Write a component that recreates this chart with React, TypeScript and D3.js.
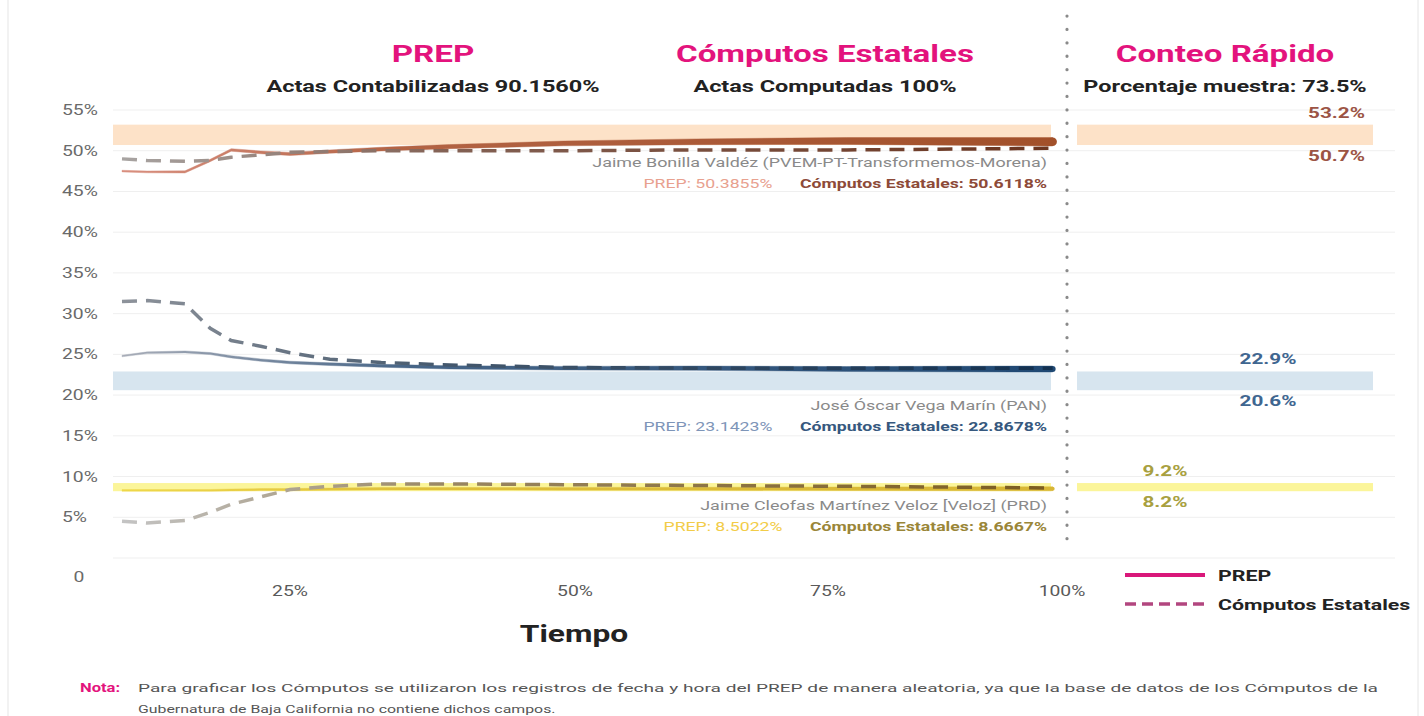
import React from "react";
import * as d3 from "d3";

// time (% of the count) at which each series was sampled
const times = [5, 8, 12.5, 15.5, 18, 21.5, 25, 28.5, 33, 39, 49, 62, 77, 99];

// Jaime Bonilla (PVEM-PT-Transformemos-Morena)
const morenaPrep = [47.5, 47.4, 47.4, 48.8, 50.1, 49.8, 49.6, 49.9, 50.2, 50.5, 50.9, 51.1, 51.2, 51.1];
const morenaComp = [49.0, 48.8, 48.7, 48.8, 49.2, 49.5, 49.8, 49.9, 50.0, 50.0, 50.0, 50.1, 50.1, 50.3];
// José Óscar Vega (PAN)
const panPrep = [24.8, 25.2, 25.3, 25.1, 24.7, 24.3, 24.0, 23.8, 23.6, 23.4, 23.3, 23.3, 23.2, 23.2];
const panComp = [31.5, 31.6, 31.2, 28.2, 26.7, 26.0, 25.2, 24.4, 24.0, 23.7, 23.4, 23.3, 23.3, 23.3];
// Jaime Cleofas Martínez (PRD)
const prdPrep = [8.3, 8.3, 8.3, 8.3, 8.35, 8.4, 8.4, 8.45, 8.5, 8.5, 8.5, 8.5, 8.5, 8.5];
const prdComp = [4.5, 4.3, 4.6, 5.6, 6.6, 7.5, 8.4, 8.8, 9.1, 9.1, 9.0, 8.9, 8.8, 8.6];

// conteo rápido intervals
const conteoLow = [50.7, 20.6, 8.2];
const conteoHigh = [53.2, 22.9, 9.2];

const candidates = [
  "Jaime Bonilla Valdéz (PVEM-PT-Transformemos-Morena)",
  "José Óscar Vega Marín (PAN)",
  "Jaime Cleofas Martínez Veloz [Veloz] (PRD)",
];
const prepFinal = ["50.3855%", "23.1423%", "8.5022%"];
const compFinal = ["50.6118%", "22.8678%", "8.6667%"];

const yTicks = [0, 5, 10, 15, 20, 25, 30, 35, 40, 45, 50, 55];
const xTicks = [25, 50, 75, 100];

// styles
const SX = 1.38;
const FONT = "Roboto, 'Noto Sans', sans-serif";
const PINK = "#e3137d";
const series = [
  { prep: morenaPrep, comp: morenaComp, band: "#fde2c8", label: "#9c5444", prepCol: ["#d98f7f", "#a2502a"], compCol: ["#a8a4a2", "#6b3520"], w: [1.6, 8.5], annY: 167, prepFill: "#e8a18f", compFill: "#8d4a38" },
  { prep: panPrep, comp: panComp, band: "#d7e5ef", label: "#3f6690", prepCol: ["#a8adb8", "#1f4873"], compCol: ["#8e939b", "#13304f"], w: [1.6, 6], annY: 410, prepFill: "#7e95b8", compFill: "#36587e" },
  { prep: prdPrep, comp: prdComp, band: "#fbf59a", label: "#a8a040", prepCol: ["#efd84a", "#d8b635"], compCol: ["#c4c4c4", "#7c5d20"], w: [1.6, 4], annY: 510, prepFill: "#f2cc48", compFill: "#9a8638" },
];
const conteoLabelX = [1365, 1268, 1165];
const conteoAnchor = ["end", "middle", "middle"];

function T({ x, y, anchor = "start", size = 13, weight = 400, fill = "#333", sx = SX, len, children }: any) {
  return (
    <text
      transform={`translate(${x},${y}) scale(${sx},1)`}
      textAnchor={anchor}
      fontSize={size}
      fontWeight={weight}
      fill={fill}
      fontFamily={FONT}
      textLength={len}
      lengthAdjust={len ? "spacingAndGlyphs" : undefined}
    >
      {children}
    </text>
  );
}

export default function App() {
  const width = 1424,
    height = 716;
  const x = d3.scaleLinear().domain([0, 25, 50, 75, 100]).range([80, 290, 575, 828, 1062]);
  const y = d3.scaleLinear().domain([0, 55]).range([558, 110]);
  const plotL = 113,
    plotR = 1051,
    rightL = 1077,
    rightR = 1373,
    sepX = 1067;

  const t0 = times[0],
    t1 = times[times.length - 1];
  const line = d3
    .line<number>()
    .x((d, i) => x(times[i]))
    .y((d) => y(d))
    .curve(d3.curveLinear);
  const ribbon = (w: number[]) =>
    d3
      .area<number>()
      .x((d, i) => x(times[i]))
      .y0((d, i) => y(d) + (w[0] + ((w[1] - w[0]) * (times[i] - t0)) / (t1 - t0)) / 2)
      .y1((d, i) => y(d) - (w[0] + ((w[1] - w[0]) * (times[i] - t0)) / (t1 - t0)) / 2)
      .curve(d3.curveLinear);

  return (
    <svg width={width} height={height} style={{ position: "absolute", left: 0, top: 0, background: "#fff" }}>
      <defs>
        {series.map((s, i) => (
          <React.Fragment key={i}>
            <linearGradient id={`gp${i}`} gradientUnits="userSpaceOnUse" x1={x(t0)} x2={x(t1)} y1={0} y2={0}>
              <stop offset="0" stopColor={s.prepCol[0]} />
              <stop offset="0.3" stopColor={d3.interpolateRgb(s.prepCol[0], s.prepCol[1])(0.7)} />
              <stop offset="1" stopColor={s.prepCol[1]} />
            </linearGradient>
            <linearGradient id={`gc${i}`} gradientUnits="userSpaceOnUse" x1={x(t0)} x2={x(t1)} y1={0} y2={0}>
              <stop offset="0" stopColor={s.compCol[0]} />
              <stop offset="0.35" stopColor={d3.interpolateRgb(s.compCol[0], s.compCol[1])(0.6)} />
              <stop offset="1" stopColor={s.compCol[1]} />
            </linearGradient>
          </React.Fragment>
        ))}
      </defs>

      <rect x={8} y={-2} width={1410} height={722} fill="none" stroke="#e6e6e6" />

      {/* headers */}
      <T x={433} y={62} anchor="middle" size={24} weight={700} fill={PINK}>PREP</T>
      <T x={433} y={92} anchor="middle" size={17} weight={700} fill="#222">Actas Contabilizadas 90.1560%</T>
      <T x={825} y={62} anchor="middle" size={24} weight={700} fill={PINK}>Cómputos Estatales</T>
      <T x={825} y={92} anchor="middle" size={17} weight={700} fill="#222">Actas Computadas 100%</T>
      <T x={1225} y={62} anchor="middle" size={24} weight={700} fill={PINK}>Conteo Rápido</T>
      <T x={1225} y={92} anchor="middle" size={17} weight={700} fill="#222">Porcentaje muestra: 73.5%</T>

      {/* gridlines */}
      {yTicks.map((v) => (
        <line key={v} x1={plotL} x2={1395} y1={y(v)} y2={y(v)} stroke="#efefef" />
      ))}
      {yTicks.map((v) =>
        v === 0 ? (
          <T key={v} x={79} y={y(v) + 24} anchor="middle" size={14} fill="#6a6a6a">0</T>
        ) : (
          <T key={v} x={62} y={y(v) + 5} size={14} fill="#6a6a6a">{`${v}%`}</T>
        )
      )}
      {xTicks.map((v) => (
        <T key={v} x={x(v)} y={596} anchor="middle" size={14} fill="#5a5a5a">{`${v}%`}</T>
      ))}
      <T x={574} y={642} anchor="middle" size={23} weight={700} fill="#222">Tiempo</T>

      {/* conteo rápido bands */}
      {series.map((s, i) => (
        <g key={i}>
          <rect x={plotL} width={plotR - plotL} y={y(conteoHigh[i])} height={y(conteoLow[i]) - y(conteoHigh[i])} fill={s.band} />
          <rect x={rightL} width={rightR - rightL} y={y(conteoHigh[i])} height={y(conteoLow[i]) - y(conteoHigh[i])} fill={s.band} />
          <T x={conteoLabelX[i]} y={y(conteoHigh[i]) - 7} anchor={conteoAnchor[i]} size={15} weight={700} fill={s.label}>{`${conteoHigh[i]}%`}</T>
          <T x={conteoLabelX[i]} y={y(conteoLow[i]) + 16} anchor={conteoAnchor[i]} size={15} weight={700} fill={s.label}>{`${conteoLow[i]}%`}</T>
        </g>
      ))}

      {/* series */}
      {series.map((s, i) => (
        <g key={i}>
          <path d={ribbon(s.w)(s.prep) || ""} fill={`url(#gp${i})`} stroke={`url(#gp${i})`} strokeWidth={0.4} />
          <circle cx={x(t1)} cy={y(s.prep[s.prep.length - 1])} r={s.w[1] / 2} fill={s.prepCol[1]} />
          <path d={line(s.comp) || ""} fill="none" stroke={`url(#gc${i})`} strokeWidth={3.5} strokeDasharray="15 9" />
        </g>
      ))}

      {/* annotations */}
      {series.map((s, i) => (
        <g key={i}>
          <T x={1047} y={s.annY} anchor="end" size={13} fill="#8a8a8a">{candidates[i]}</T>
          <text
            transform={`translate(1047,${s.annY + 21}) scale(${SX},1)`}
            textAnchor="end"
            fontSize={12.8}
            fontFamily={FONT}
          >
            <tspan fill={s.prepFill}>{`PREP: ${prepFinal[i]}`}</tspan>
            <tspan dx={20} fill={s.compFill} fontWeight={700}>{`Cómputos Estatales: ${compFinal[i]}`}</tspan>
          </text>
        </g>
      ))}

      {/* separator */}
      <line x1={sepX} x2={sepX} y1={16} y2={552} stroke="#8a8a8a" strokeWidth={3.2} strokeLinecap="round" strokeDasharray="0.1 13.3" />

      {/* legend */}
      <line x1={1125} x2={1205} y1={575} y2={575} stroke="#d9187a" strokeWidth={4} />
      <T x={1218} y={581} size={15.5} weight={700} fill="#222">PREP</T>
      <line x1={1125} x2={1205} y1={604} y2={604} stroke="#b2467f" strokeWidth={3.5} strokeDasharray="11 6" />
      <T x={1218} y={610} size={15.5} weight={700} fill="#222">Cómputos Estatales</T>

      {/* note */}
      <T x={80} y={692} size={12} weight={700} fill={PINK}>Nota:</T>
      <text x={138} y={692} fontSize={11.5} fontFamily={FONT} fill="#555" textLength={1240} lengthAdjust="spacingAndGlyphs">
        Para graficar los Cómputos se utilizaron los registros de fecha y hora del PREP de manera aleatoria, ya que la base de datos de los Cómputos de la
      </text>
      <T x={138} y={713} size={11.5} fill="#555">Gubernatura de Baja California no contiene dichos campos.</T>
    </svg>
  );
}
